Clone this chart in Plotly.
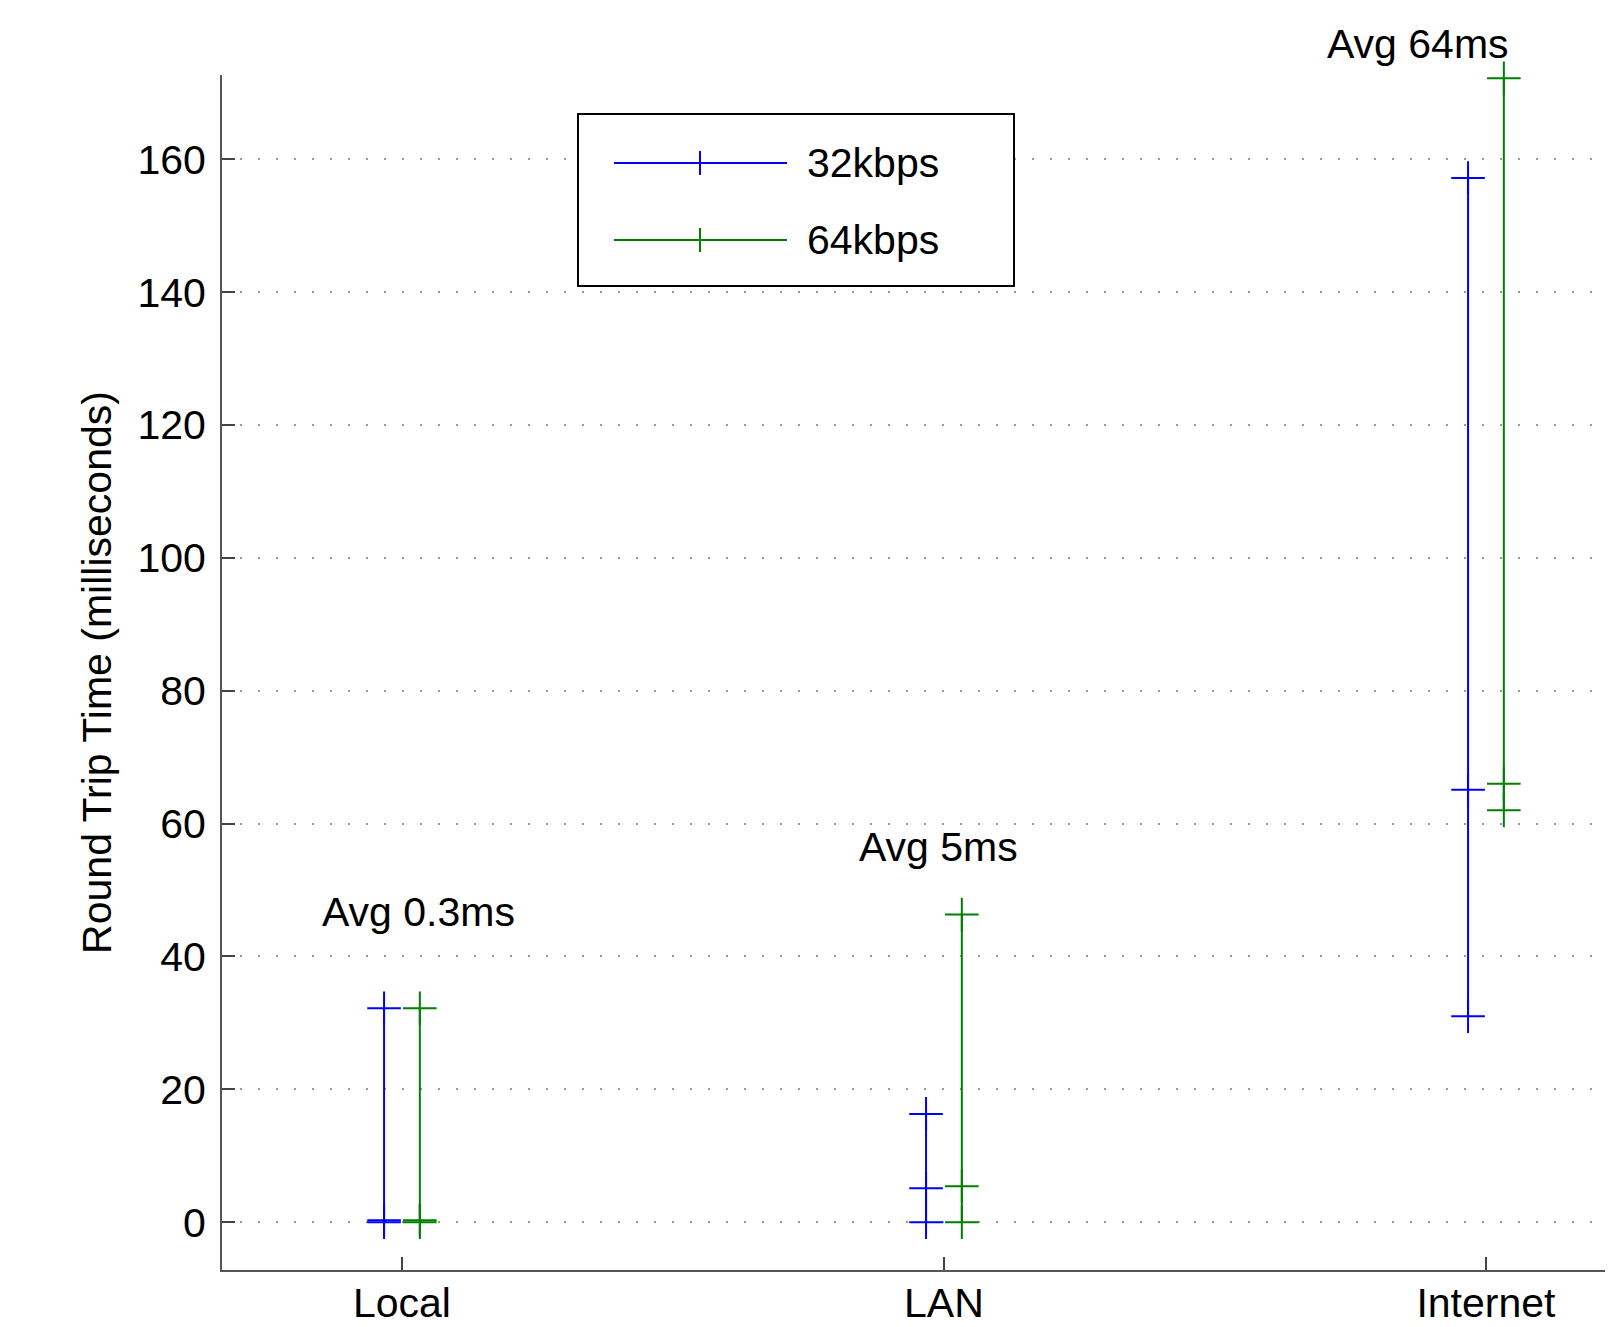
import plotly.graph_objects as go

# ---- data ----
categories = ["Local", "LAN", "Internet"]
series_names = ["32kbps", "64kbps"]
min_32 = [0.0, 0.0, 31.0]
avg_32 = [0.3, 5.1, 65.1]
max_32 = [32.2, 16.3, 157.2]
min_64 = [0.0, 0.0, 62.0]
avg_64 = [0.3, 5.4, 66.0]
max_64 = [32.2, 46.3, 172.2]
avg_labels = ["Avg 0.3ms", "Avg 5ms", "Avg 64ms"]
avg_label_y = [46.7, 56.5, 172.5]
avg_label_x = [1.03, 1.99, 2.875]
avg_label_shift = [0, 0, 32]
y_ticks = [0, 20, 40, 60, 80, 100, 120, 140, 160]

colors = ["#0000FF", "#008000"]
offsets = [-0.033, 0.033]
FONT = "Liberation Sans, Arial, Helvetica, sans-serif"
FS = 41

# page body has an 8px margin
BODY = 8
EXTRA_R = 20
W, H = 1613 - BODY + EXTRA_R, 1327 - BODY
ML, MR, MT = 222 - BODY, 0, 75 - BODY
MB = H - (1270 - BODY)
PW, PH = W - ML - MR, H - MT - MB

X0, UNIT_PX = 0.668, 542.0
x_range = [X0, X0 + PW / UNIT_PX]

def px(xp):
    return (xp - BODY - ML) / PW

def py(yp):
    return (H - MB - (yp - BODY)) / PH

fig = go.Figure()
for mins, avgs, maxs, col, off, name in zip(
        [min_32, min_64], [avg_32, avg_64], [max_32, max_64], colors, offsets, series_names):
    xs, ys = [], []
    for i in range(len(categories)):
        xv = i + 1 + off
        xs += [xv, xv, xv, None]
        ys += [mins[i], avgs[i], maxs[i], None]
    fig.add_trace(go.Scatter(
        x=xs, y=ys, mode="lines+markers", name=name, showlegend=False,
        line=dict(color=col, width=2),
        marker=dict(symbol="cross-thin", size=24, line=dict(color=col, width=2)),
        connectgaps=False, cliponaxis=False,
    ))

for txt, xv, yv, ys_ in zip(avg_labels, avg_label_x, avg_label_y, avg_label_shift):
    fig.add_annotation(x=xv, y=yv, xref="x", yref="y", text=txt, showarrow=False,
                       yshift=ys_, font=dict(family=FONT, size=FS, color="black"))

# ---- custom legend ----
shapes = []
lx0, ly0, lx1, ly1 = 578, 114, 1014, 286
shapes.append(dict(type="rect", xref="paper", yref="paper",
                   x0=px(lx0), x1=px(lx1), y0=py(ly1), y1=py(ly0),
                   line=dict(color="black", width=2), fillcolor="white", layer="above"))
for name, col, yy in zip(series_names, colors, [163, 240]):
    shapes.append(dict(type="line", xref="paper", yref="paper",
                       x0=px(614), x1=px(787), y0=py(yy), y1=py(yy),
                       line=dict(color=col, width=2), layer="above"))
    shapes.append(dict(type="line", xref="paper", yref="paper",
                       x0=px(688), x1=px(712), y0=py(yy), y1=py(yy),
                       line=dict(color=col, width=2), layer="above"))
    shapes.append(dict(type="line", xref="paper", yref="paper",
                       x0=px(700), x1=px(700), y0=py(yy - 12), y1=py(yy + 12),
                       line=dict(color=col, width=2), layer="above"))
    fig.add_annotation(x=px(805), y=py(yy), xref="paper", yref="paper", text=name,
                       showarrow=False, xanchor="left", yanchor="middle",
                       font=dict(family=FONT, size=FS, color="black"))

fig.update_layout(
    width=W, height=H,
    margin=dict(l=ML, r=MR, t=MT, b=MB, pad=0, autoexpand=False),
    paper_bgcolor="white", plot_bgcolor="white",
    shapes=shapes,
    font=dict(family=FONT, size=FS, color="black"),
    showlegend=False,
)
fig.update_xaxes(
    range=x_range, tickmode="array", tickvals=[1, 2, 3], ticktext=categories,
    ticks="inside", ticklen=13, tickwidth=2, tickcolor="#444",
    showline=True, linecolor="#555", linewidth=2, mirror=False,
    showgrid=False, zeroline=False, ticklabelstandoff=-4, automargin=False,
    tickfont=dict(family=FONT, size=FS, color="black"),
)
fig.update_yaxes(
    range=[-7.2, 172.7], tickmode="array", tickvals=y_ticks,
    ticks="inside", ticklen=13, tickwidth=2, tickcolor="#444",
    showline=True, linecolor="#555", linewidth=2,
    showgrid=True, gridcolor="#999", gridwidth=1.5, griddash="2px,16px",
    zeroline=False, ticklabelstandoff=6, automargin=False,
    tickfont=dict(family=FONT, size=FS, color="black"),
    title=dict(text="Round Trip Time (milliseconds)", standoff=13,
               font=dict(family=FONT, size=FS, color="black")),
)

fig.write_html("out.html")
